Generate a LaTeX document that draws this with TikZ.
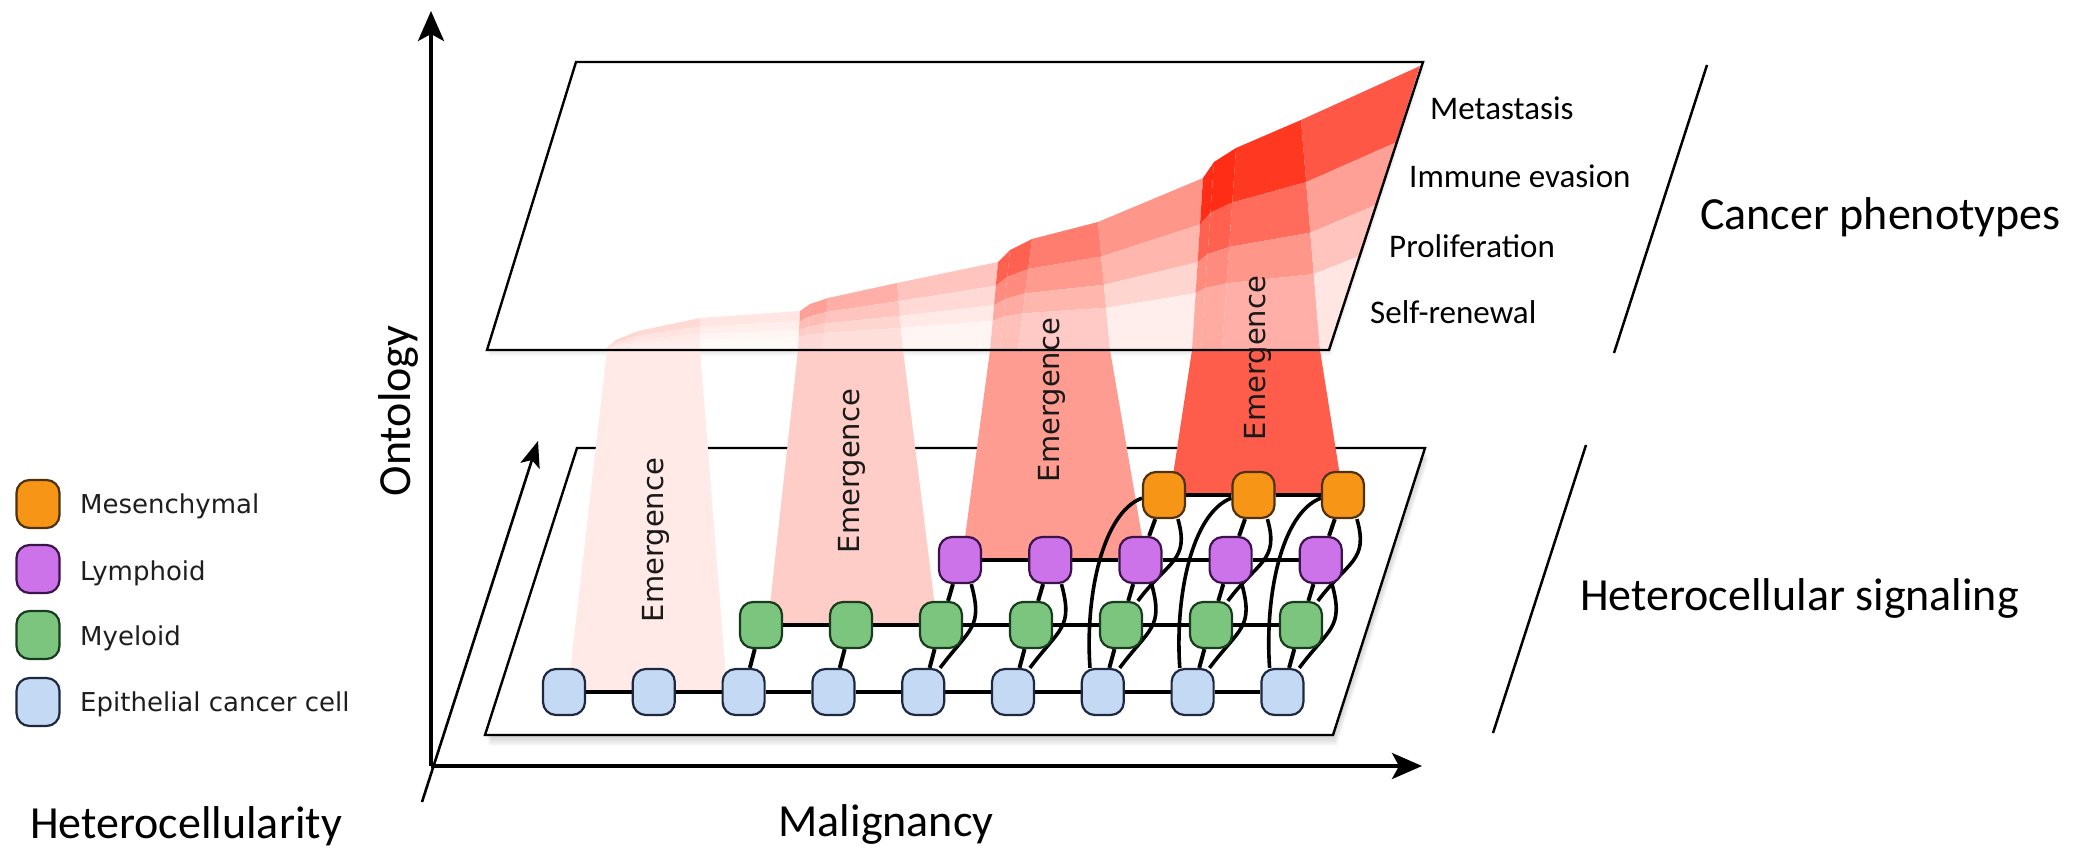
\documentclass[tikz,border=0pt]{standalone}
\usepackage{fontspec}
\setmainfont{Carlito}
\newfontfamily\dvs{DejaVu Sans}
\usetikzlibrary{calc,arrows.meta}
\pgfdeclarelayer{bg}
\pgfdeclarelayer{edges}
\pgfsetlayers{bg,edges,main}
\definecolor{cOr}{RGB}{247,150,22}
\definecolor{cPu}{RGB}{204,115,234}
\definecolor{cGr}{RGB}{124,197,127}
\definecolor{cBl}{RGB}{196,217,243}
\definecolor{dOr}{RGB}{80,50,10}
\definecolor{dPu}{RGB}{60,20,75}
\definecolor{dGr}{RGB}{25,60,30}
\definecolor{dBl}{RGB}{30,40,65}
\definecolor{sred}{RGB}{255,45,22}
\definecolor{legtxt}{RGB}{30,30,30}
\begin{document}
\begin{tikzpicture}[x=1pt,y=-1pt,
  cell/.style={rectangle, rounded corners=13pt, minimum width=42pt, minimum height=46pt, inner sep=0pt, line width=2.2pt},
  ep/.style={cell, fill=cBl, draw=dBl},
  my/.style={cell, fill=cGr, draw=dGr},
  ly/.style={cell, fill=cPu, draw=dPu},
  me/.style={cell, fill=cOr, draw=dOr},
  link/.style={line width=4pt, black},
  curv/.style={line width=3.6pt, black},
  plane/.style={line width=2.4pt, black, line join=miter},
  axis/.style={line width=3.8pt, -{Stealth[length=30pt,width=26pt,inset=7pt]}},
  daxis/.style={line width=2.6pt, -{Stealth[length=26pt,width=20pt,inset=6pt]}},
  emtext/.style={font=\dvs\fontsize{29}{32}\selectfont, rotate=90, text=black!90, inner sep=0pt},
  bigtext/.style={font=\fontsize{46}{50}\selectfont, inner sep=0pt},
  phtext/.style={font=\fontsize{33}{36}\selectfont, inner sep=0pt, anchor=base west},
  legtext/.style={font=\dvs\fontsize{26}{30}\selectfont, text=legtxt, inner sep=0pt, anchor=base west},
  slash/.style={line width=2.5pt}
]
\useasboundingbox (0,0) rectangle (2079,850);

% ---------- planes, surface, emergence bands ----------
\begin{pgfonlayer}{bg}
  \foreach \k in {1,...,10}
    \fill[black,opacity=0.02,shift={(0.4*\k,1.1*\k)}] (577,448) -- (1425,448) -- (1333,735) -- (485,735) -- cycle;
  \fill[white] (577,448) -- (1425,448) -- (1333,735) -- (485,735) -- cycle;
  \draw[plane] (577,448) -- (1425,448) -- (1333,735) -- (485,735) -- cycle;

  \foreach \k in {1,...,6}
    \fill[black,opacity=0.015,shift={(0.4*\k,1.0*\k)}] (576,62) -- (1423,62) -- (1329,350) -- (487,350) -- cycle;
  \fill[white] (576,62) -- (1423,62) -- (1329,350) -- (487,350) -- cycle;

  \foreach \n/\xt/\yt/\xb in {0/607/348/607, 1/616/340/614, 2/638/331/630, 3/700/318/700,
      4/800/311/798, 5/810/304/806, 6/828/298/822, 7/897/283/903,
      8/998/262/990, 9/1010/250/1000, 10/1032/239/1018, 11/1098/222/1110,
      12/1203/178/1192, 13/1214/162/1201, 14/1236/148/1222, 15/1301/120/1320, 16/1420/66/1329} {
    \coordinate (T\n) at (\xt,\yt);
    \coordinate (B\n) at (\xb,350);
    \coordinate (Ra\n) at ($(T\n)!0.27!(B\n)$);
    \coordinate (Rb\n) at ($(T\n)!0.49!(B\n)$);
    \coordinate (Rc\n) at ($(T\n)!0.67!(B\n)$);
  }
  \foreach \ca/\cb/\vM/\vI/\vP/\vS in {0/1/20/15/11/9, 1/2/20/15/11/9, 2/3/18/13/10/8, 3/4/12/8/5/3,
      4/5/45/32/24/18, 5/6/45/32/24/18, 6/7/38/28/20/15, 7/8/28/18/10/5,
      8/9/75/55/40/30, 9/10/75/55/40/30, 10/11/62/48/35/25, 11/12/50/35/20/8,
      12/13/100/75/55/40, 13/14/100/75/55/40, 14/15/95/70/50/38, 15/16/80/45/28/12} {
    \fill[sred!\vM!white] (T\ca) -- (T\cb) -- (Ra\cb) -- (Ra\ca) -- cycle;
    \fill[sred!\vI!white] (Ra\ca) -- (Ra\cb) -- (Rb\cb) -- (Rb\ca) -- cycle;
    \fill[sred!\vP!white] (Rb\ca) -- (Rb\cb) -- (Rc\cb) -- (Rc\ca) -- cycle;
    \fill[sred!\vS!white] (Rc\ca) -- (Rc\cb) -- (B\cb) -- (B\ca) -- cycle;
  }
  % emergence bands
  \fill[sred!10!white] (B0) -- (B3) -- (727,690) -- (568,690) -- cycle;
  \fill[sred!24!white] (B4) -- (B7) -- (937,623) -- (768,623) -- cycle;
  \fill[sred!47!white] (B8) -- (B11) -- (1146,560) -- (962,560) -- cycle;
  \fill[sred!77!white] (B12) -- (B15) -- (1343,495) -- (1170,495) -- cycle;

  \draw[plane] (576,62) -- (1423,62) -- (1329,350) -- (487,350) -- cycle;
\end{pgfonlayer}

% ---------- cells ----------
\foreach \i in {0,...,8} \node[ep] (b\i) at ({564+89.8*\i},692) {};
\foreach \i in {0,...,6} \node[my] (g\i) at ({761+90*\i},625) {};
\foreach \i in {0,...,4} \node[ly] (p\i) at ({960+90.2*\i},560) {};
\foreach \i in {0,1,2} \node[me] (o\i) at ({1164+89.5*\i},495) {};

% ---------- signaling links ----------
\begin{pgfonlayer}{edges}
  \foreach \i [evaluate=\i as \j using int(\i+1)] in {0,...,7} \draw[link] (b\i) -- (b\j);
  \foreach \i [evaluate=\i as \j using int(\i+1)] in {0,...,5} \draw[link] (g\i) -- (g\j);
  \foreach \i [evaluate=\i as \j using int(\i+1)] in {0,...,3} \draw[link] (p\i) -- (p\j);
  \foreach \i [evaluate=\i as \j using int(\i+1)] in {0,1} \draw[link] (o\i) -- (o\j);
  \foreach \i [evaluate=\i as \j using int(\i+2)] in {0,...,6} \draw[link] (g\i) -- (b\j);
  \foreach \i [evaluate=\i as \j using int(\i+2)] in {0,...,4} \draw[link] (p\i) -- (g\j);
  \foreach \i [evaluate=\i as \j using int(\i+2)] in {0,1,2} \draw[link] (o\i) -- (p\j);
  \foreach \i [evaluate=\i as \j using int(\i+4)] in {0,...,4}
    \draw[curv] (p\i.-65) .. controls +(12,44) and +(30,-40) .. (b\j.55);
  \foreach \i [evaluate=\i as \j using int(\i+4)] in {0,1,2}
    \draw[curv] (o\i.-60) .. controls +(12,42) and +(30,-40) .. (g\j.55);
  \foreach \i [evaluate=\i as \j using int(\i+6)] in {0,1,2}
    \draw[curv] (o\i.188) .. controls +(-40,15) and +(-5,-70) .. (b\j.118);
\end{pgfonlayer}

% ---------- emergence labels ----------
\node[emtext] (em1) at (656,540) {Emergence};
\node[emtext] (em2) at (852,471) {Emergence};
\node[emtext] (em3) at (1052,400) {Emergence};
\node[emtext] (em4) at (1258,358) {Emergence};

% ---------- axes ----------
\coordinate (O) at (431,766);
\coordinate (Otop) at (431,11);
\coordinate (Oright) at (1422,766);
\coordinate (Dstart) at (422,802);
\coordinate (Dtip) at (538,441);
\draw[axis] (O) -- (Otop);
\draw[axis] (O) -- (Oright);
\draw[daxis] (Dstart) -- (Dtip);

% ---------- labels ----------
\node[bigtext, anchor=base] (lhc) at (186,838) {Heterocellularity};
\node[bigtext, anchor=base] (lmal) at (886,836) {Malignancy};
\node[bigtext, rotate=90] (lont) at (398,411) {Ontology};
\node[bigtext, anchor=base west] (lcp) at (1700,230) {Cancer phenotypes};
\node[bigtext, anchor=base west] (lhs) at (1580,610) {Heterocellular signaling};

\node[phtext] (ph1) at (1430,120) {Metastasis};
\node[phtext] (ph2) at (1409,188) {Immune evasion};
\node[phtext] (ph3) at (1389,258) {Proliferation};
\node[phtext] (ph4) at (1370,323) {Self-renewal};

\coordinate (s1a) at (1707,65); \coordinate (s1b) at (1614,353);
\coordinate (s2a) at (1586,445); \coordinate (s2b) at (1493,733);
\draw[slash] (s1a) -- (s1b);
\draw[slash] (s2a) -- (s2b);

% ---------- legend ----------
\node[me, minimum width=43pt, minimum height=48pt] (lgo) at (38,504) {};
\node[ly, minimum width=43pt, minimum height=48pt] (lgp) at (38,569) {};
\node[my, minimum width=43pt, minimum height=48pt] (lgg) at (38,635) {};
\node[ep, minimum width=43pt, minimum height=48pt] (lgb) at (38,702) {};
\node[legtext] (lto) at (80,513) {Mesenchymal};
\node[legtext] (ltp) at (80,580) {Lymphoid};
\node[legtext] (ltg) at (80,645) {Myeloid};
\node[legtext] (ltb) at (80,711) {Epithelial cancer cell};
\end{tikzpicture}
\end{document}
